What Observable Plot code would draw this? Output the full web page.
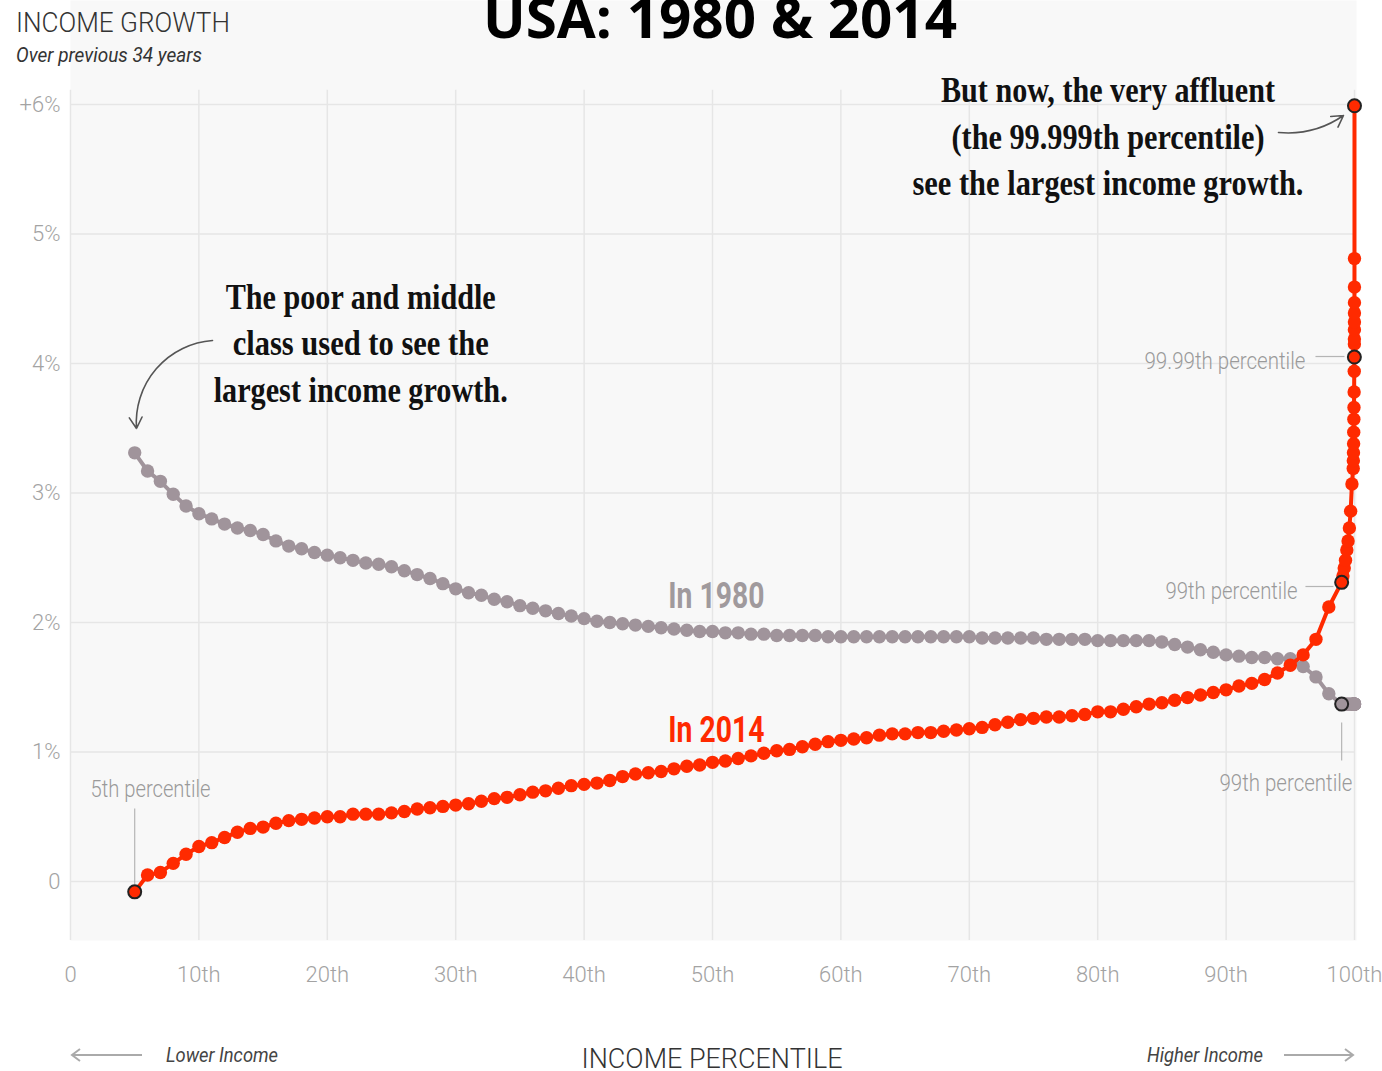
<!DOCTYPE html>
<html>
<head>
<meta charset="utf-8">
<script src="https://cdn.jsdelivr.net/npm/d3@7"></script>
<script src="https://cdn.jsdelivr.net/npm/@observablehq/plot@0.6"></script>
<style>
  body { margin: 0; background: #fff; }
  #wrap { position: relative; width: 1382px; height: 1071px; overflow: hidden; }
</style>
</head>
<body>
<div id="wrap"></div>
<script>
// ---------- DATA ----------
const pctInt = d3.range(5, 100); // 5th .. 99th percentile
const pctTop = [99.1, 99.2, 99.3, 99.4, 99.5, 99.6, 99.7, 99.8, 99.9,
                99.91, 99.92, 99.93, 99.94, 99.95, 99.96, 99.97, 99.98, 99.99,
                99.991, 99.992, 99.993, 99.994, 99.995, 99.996, 99.997, 99.998, 99.999];
const percentiles = pctInt.concat(pctTop);

const growth1980 = [
  3.31, 3.17, 3.09, 2.99, 2.90, 2.84, 2.80, 2.76, 2.73, 2.71,
  2.68, 2.63, 2.59, 2.57, 2.54, 2.52, 2.50, 2.48, 2.46, 2.45,
  2.43, 2.40, 2.37, 2.34, 2.30, 2.26, 2.23, 2.21, 2.18, 2.16,
  2.13, 2.11, 2.09, 2.07, 2.05, 2.03, 2.01, 2.00, 1.99, 1.98,
  1.97, 1.96, 1.95, 1.94, 1.93, 1.93, 1.92, 1.92, 1.91, 1.91,
  1.90, 1.90, 1.90, 1.90, 1.89, 1.89, 1.89, 1.89, 1.89, 1.89,
  1.89, 1.89, 1.89, 1.89, 1.89, 1.89, 1.88, 1.88, 1.88, 1.88,
  1.88, 1.87, 1.87, 1.87, 1.87, 1.86, 1.86, 1.86, 1.86, 1.86,
  1.85, 1.83, 1.81, 1.79, 1.77, 1.75, 1.74, 1.73, 1.73, 1.72,
  1.72, 1.66, 1.58, 1.45, 1.37,
  1.37, 1.37, 1.37, 1.37, 1.37, 1.37, 1.37, 1.37, 1.37,
  1.37, 1.37, 1.37, 1.37, 1.37, 1.37, 1.37, 1.37, 1.37,
  1.37, 1.37, 1.37, 1.37, 1.37, 1.37, 1.37, 1.37, 1.37
];

const growth2014 = [
  -0.08, 0.05, 0.07, 0.14, 0.21, 0.27, 0.30, 0.34, 0.38, 0.41,
  0.42, 0.45, 0.47, 0.48, 0.49, 0.50, 0.50, 0.52, 0.52, 0.52,
  0.53, 0.54, 0.56, 0.57, 0.58, 0.59, 0.60, 0.62, 0.64, 0.65,
  0.67, 0.69, 0.70, 0.72, 0.74, 0.75, 0.76, 0.78, 0.81, 0.83,
  0.84, 0.85, 0.87, 0.89, 0.90, 0.92, 0.93, 0.95, 0.97, 0.99,
  1.01, 1.02, 1.04, 1.06, 1.08, 1.09, 1.10, 1.11, 1.13, 1.14,
  1.14, 1.15, 1.15, 1.16, 1.17, 1.18, 1.19, 1.21, 1.23, 1.25,
  1.26, 1.27, 1.27, 1.28, 1.29, 1.31, 1.31, 1.33, 1.35, 1.37,
  1.38, 1.40, 1.42, 1.44, 1.46, 1.48, 1.51, 1.53, 1.56, 1.61,
  1.67, 1.75, 1.87, 2.12, 2.31,
  2.36, 2.42, 2.48, 2.56, 2.63, 2.73, 2.86, 3.07, 3.19,
  3.25, 3.31, 3.38, 3.47, 3.57, 3.66, 3.78, 3.94, 4.05,
  4.15, 4.19, 4.26, 4.32, 4.39, 4.47, 4.59, 4.81, 5.99
];

const highlight2014 = [5, 99, 99.99, 99.999];
const highlight1980 = [99];

const xTicks = [0, 10, 20, 30, 40, 50, 60, 70, 80, 90, 100];
const xTickLabels = ["0", "10th", "20th", "30th", "40th", "50th", "60th", "70th", "80th", "90th", "100th"];
const yTicks = [0, 1, 2, 3, 4, 5, 6];
const yTickLabels = ["0", "1%", "2%", "3%", "4%", "5%", "+6%"];

// annotations (text, x percentile, y growth, target width px)
const leftNote = [
  {t: "The poor and middle", x: 22.6, y: 4.51, w: 270},
  {t: "class used to see the", x: 22.6, y: 4.155, w: 256},
  {t: "largest income growth.", x: 22.6, y: 3.79, w: 294}
];
const rightNote = [
  {t: "But now, the very affluent", x: 80.8, y: 6.108, w: 334},
  {t: "(the 99.999th percentile)", x: 80.8, y: 5.745, w: 313},
  {t: "see the largest income growth.", x: 80.8, y: 5.39, w: 391}
];
const seriesLabels = [
  {t: "In 1980", x: 50.3, y: 2.20, w: 96, c: "#a09a9d"},
  {t: "In 2014", x: 50.3, y: 1.166, w: 96, c: "#ff2a00"}
];
const pctLabelsMid = [
  {t: "5th percentile", x: 6.23, y: 0.71, w: 120}
];
const pctLabelsEnd = [
  {t: "99.99th percentile", x: 96.18, y: 4.02, w: 161},
  {t: "99th percentile", x: 95.56, y: 2.24, w: 132},
  {t: "99th percentile", x: 99.84, y: 0.757, w: 133}
];
const leaders = [
  {x1: 5, y1: 0.564, x2: 5, y2: -0.02},
  {x1: 96.96, y1: 4.054, x2: 99.22, y2: 4.054},
  {x1: 96.18, y1: 2.278, x2: 98.36, y2: 2.278},
  {x1: 99, y1: 1.228, x2: 99, y2: 0.934}
];
const arrowLeft = [{x1: 11.06, y1: 4.178, x2: 5.14, y2: 3.498}];
const arrowRight = [{x1: 94.08, y1: 5.784, x2: 99.14, y2: 5.915}];

// ---------- BUILD ----------
const RED = "#ff2a00";
const GRAY = "#a0949b";
const LABEL = "#a3a3a3";
const SANS = "Roboto, 'Liberation Sans', sans-serif";
const SERIF = "'Liberation Serif', 'DejaVu Serif', serif";

const d1980 = percentiles.map((p, i) => ({p, v: growth1980[i]}));
const d2014 = percentiles.map((p, i) => ({p, v: growth2014[i]}));

const chart = Plot.plot({
  width: 1382,
  height: 1071,
  marginLeft: 70,
  marginRight: 26,
  marginTop: 0,
  marginBottom: 131,
  x: {domain: [0, 100], range: [70, 1354]},
  y: {domain: [0, 6], range: [881, 104]},
  style: {background: "transparent", fontFamily: SANS, overflow: "visible"},
  marks: [
    Plot.frame({fill: "#f8f8f8", stroke: "none"}),
    Plot.ruleX(xTicks, {y1: -0.456, y2: 6.11, stroke: "#e6e6e6", strokeWidth: 1.5}),
    Plot.ruleY(yTicks, {x1: 0, x2: 100, stroke: "#e6e6e6", strokeWidth: 1.5}),
    Plot.axisY(yTicks, {
      tickSize: 0, tickPadding: 10, fontSize: 22, fontWeight: 300, color: LABEL,
      tickFormat: d => yTickLabels[yTicks.indexOf(d)], label: null
    }),
    Plot.axisX(xTicks, {
      tickSize: 0, tickPadding: 26, fontSize: 22, fontWeight: 300, color: LABEL,
      tickFormat: d => xTickLabels[xTicks.indexOf(d)], label: null
    }),
    // 1980 series
    Plot.line(d1980, {x: "p", y: "v", stroke: GRAY, strokeWidth: 4}),
    Plot.dot(d1980, {x: "p", y: "v", r: 6.7, fill: GRAY, stroke: "none"}),
    Plot.dot(d1980.filter(d => highlight1980.includes(d.p)), {x: "p", y: "v", r: 6.5, fill: GRAY, stroke: "#222", strokeWidth: 2}),
    // 2014 series
    Plot.line(d2014, {x: "p", y: "v", stroke: RED, strokeWidth: 4}),
    Plot.dot(d2014, {x: "p", y: "v", r: 6.7, fill: RED, stroke: "none"}),
    Plot.dot(d2014.filter(d => highlight2014.includes(d.p)), {x: "p", y: "v", r: 6.5, fill: RED, stroke: "#222", strokeWidth: 2}),
    // leaders
    Plot.link(leaders, {x1: "x1", y1: "y1", x2: "x2", y2: "y2", stroke: "#b5b5b5", strokeWidth: 1.2}),
    // percentile labels
    Plot.text(pctLabelsMid, {x: "x", y: "y", text: "t", textAnchor: "middle", fill: "#9a9a9a", fontSize: 24, fontWeight: 300, className: "pctmid"}),
    Plot.text(pctLabelsEnd, {x: "x", y: "y", text: "t", textAnchor: "end", fill: "#9a9a9a", fontSize: 24, fontWeight: 300, className: "pctend"}),
    // series labels
    Plot.text(seriesLabels, {x: "x", y: "y", text: "t", fill: d => d.c, fontSize: 36, fontWeight: 700, className: "serlab"}),
    // notes
    Plot.text(leftNote, {x: "x", y: "y", text: "t", fill: "#111", fontSize: 36, fontWeight: 700, fontFamily: SERIF, className: "noteL"}),
    Plot.text(rightNote, {x: "x", y: "y", text: "t", fill: "#111", fontSize: 36, fontWeight: 700, fontFamily: SERIF, className: "noteR"}),
    Plot.arrow(arrowLeft, {x1: "x1", y1: "y1", x2: "x2", y2: "y2", bend: -45, stroke: "#555", strokeWidth: 1.6, headLength: 12}),
    Plot.arrow(arrowRight, {x1: "x1", y1: "y1", x2: "x2", y2: "y2", bend: -20, stroke: "#555", strokeWidth: 1.6, headLength: 12})
  ]
});

const svg = d3.select(chart);

function fit(cls, data) {
  svg.selectAll("g." + cls + " text").each(function(_, i) {
    if (data[i]) {
      this.setAttribute("textLength", data[i].w);
      this.setAttribute("lengthAdjust", "spacingAndGlyphs");
    }
  });
}
fit("noteL", leftNote);
fit("noteR", rightNote);
fit("serlab", seriesLabels);
fit("pctmid", pctLabelsMid);
fit("pctend", pctLabelsEnd);

// header & footer (non-data text)
const deco = svg.append("g");
const headerTexts = [
  {t: "USA: 1980 & 2014", x: 720, y: 38, a: "middle", f: "'Open Sans', sans-serif", s: 56, wgt: 700, it: false, fill: "#000", w: 474},
  {t: "INCOME GROWTH", x: 16, y: 32, a: "start", f: SANS, s: 28, wgt: 300, it: false, fill: "#333", w: 214},
  {t: "Over previous 34 years", x: 16, y: 62, a: "start", f: SANS, s: 21, wgt: 400, it: true, fill: "#333", w: 186},
  {t: "INCOME PERCENTILE", x: 712, y: 1068, a: "middle", f: SANS, s: 28, wgt: 300, it: false, fill: "#333", w: 261},
  {t: "Lower Income", x: 166, y: 1062, a: "start", f: SANS, s: 21, wgt: 400, it: true, fill: "#444", w: 112},
  {t: "Higher Income", x: 1263, y: 1062, a: "end", f: SANS, s: 21, wgt: 400, it: true, fill: "#444", w: 116}
];
for (const h of headerTexts) {
  deco.append("text")
    .attr("x", h.x).attr("y", h.y)
    .attr("text-anchor", h.a)
    .attr("font-family", h.f)
    .attr("font-size", h.s)
    .attr("font-weight", h.wgt)
    .attr("font-style", h.it ? "italic" : "normal")
    .attr("fill", h.fill)
    .attr("textLength", h.w)
    .attr("lengthAdjust", "spacingAndGlyphs")
    .text(h.t);
}
deco.append("path").attr("d", "M142,1055H72M80,1049L72,1055L80,1061")
  .attr("fill", "none").attr("stroke", "#aaa").attr("stroke-width", 2);
deco.append("path").attr("d", "M1284,1055H1353M1345,1049L1353,1055L1345,1061")
  .attr("fill", "none").attr("stroke", "#aaa").attr("stroke-width", 2);

document.getElementById("wrap").appendChild(chart);
</script>
</body>
</html>
